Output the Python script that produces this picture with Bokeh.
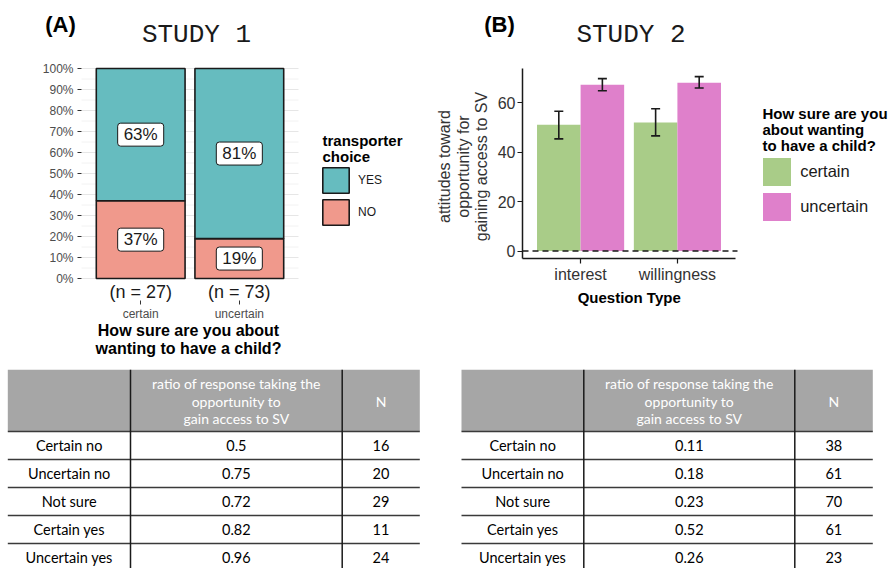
from math import pi
from bokeh.plotting import figure
from bokeh.models import (Range1d, FixedTicker, NumeralTickFormatter, Label, Legend, LegendItem,
                          ColumnDataSource, Whisker, TeeHead)
from bokeh.layouts import column, row
from bokeh.embed import file_html
from bokeh.resources import INLINE
from bokeh.core.properties import value
from bokeh.transform import dodge

# ---------------- data ----------------
s1_groups = ["certain", "uncertain"]
s1_n = [27, 73]
s1_no = [0.37, 0.19]
s1_yes = [0.63, 0.81]
s1_legend = ["YES", "NO"]
s1_yticks = [0.0, 0.1, 0.2, 0.3, 0.4, 0.5, 0.6, 0.7, 0.8, 0.9, 1.0]
s1_yminor = [0.05, 0.15, 0.25, 0.35, 0.45, 0.55, 0.65, 0.75, 0.85, 0.95]

s2_questions = ["interest", "willingness"]
s2_groups = ["certain", "uncertain"]
s2_certain_mean = [51.1, 52.0]
s2_certain_lo = [45.4, 46.6]
s2_certain_hi = [56.6, 57.6]
s2_uncertain_mean = [67.3, 68.1]
s2_uncertain_lo = [64.9, 66.0]
s2_uncertain_hi = [69.8, 70.6]
s2_yticks = [0, 20, 40, 60]

table_rows = ["Certain no", "Uncertain no", "Not sure", "Certain yes", "Uncertain yes"]
table_header = ["ratio of response taking the", "opportunity to", "gain access to SV"]
table_n_header = "N"
t1_ratio = [0.5, 0.75, 0.72, 0.82, 0.96]
t1_n = [16, 20, 29, 11, 24]
t2_ratio = [0.11, 0.18, 0.23, 0.52, 0.26]
t2_n = [38, 61, 70, 61, 23]

# ---------------- style ----------------
SANS = "Liberation Sans"
MONO = "Liberation Mono"
TAB = "Lato"
TEAL = "#66BCBF"
SALMON = "#F0998C"
GREEN = "#A9CC88"
PINK = "#DF80CB"
INK = "#1a1a1a"

TOP_H = 360
W_A, W_B = 430, 464


def add_label(fig, conv, px, py, text, size, font=SANS, bold=False, color=INK,
              align="center", angle=0.0):
    x, y = conv(px, py)
    fig.add_layout(Label(x=x, y=y, text=text, text_font=font, text_font_size=f"{size}px",
                         text_font_style="bold" if bold else "normal", text_color=color,
                         text_align=align, text_baseline="middle", angle=angle))


# ---------------- panel A ----------------
AX0, AKX = 81, 217 / 2.2      # page x of x=0.4, px per unit
AY0, AKY = 278, 210.0         # page y of y=0, px per unit


def convA(px, py):
    return 0.4 + (px - AX0) / AKX, (AY0 - py) / AKY


xa0, ya1 = convA(0, 0)
xa1, ya0 = convA(W_A, TOP_H)
pa = figure(width=W_A, height=TOP_H, x_range=Range1d(xa0, xa1), y_range=Range1d(ya0, ya1),
            output_backend="svg", toolbar_location=None, title=None, min_border=0)
pa.outline_line_color = None
pa.grid.visible = False

xA = [i + 1 for i in range(len(s1_groups))]
# grid lines (only across the panel, as in the reference)
pa.segment(x0=0.4, x1=2.6, y0=s1_yminor, y1=s1_yminor, line_color="#F2F2F2", line_width=1)
pa.segment(x0=0.4, x1=2.6, y0=s1_yticks, y1=s1_yticks, line_color="#E6E6E6", line_width=1)

srcA = ColumnDataSource(dict(x=xA, no=s1_no, yes=s1_yes))
rs = pa.vbar_stack(["no", "yes"], x="x", width=0.9, source=srcA,
                   fill_color=[SALMON, TEAL], line_color=INK, line_width=1.6)

pa.xaxis.ticker = FixedTicker(ticks=xA)
pa.xaxis.major_label_overrides = {x: g for x, g in zip(xA, s1_groups)}
pa.xaxis.fixed_location = convA(0, 300)[1]
pa.yaxis.ticker = FixedTicker(ticks=s1_yticks)
pa.yaxis.formatter = NumeralTickFormatter(format="0%")
pa.yaxis.fixed_location = 0.4
for ax in (pa.xaxis[0], pa.yaxis[0]):
    ax.axis_line_color = None
    ax.major_tick_line_color = "#333333"
    ax.major_tick_in = 0
    ax.major_tick_out = 4
    ax.minor_tick_line_color = None
    ax.major_label_text_font = SANS
    ax.major_label_text_font_size = "12px"
    ax.major_label_text_color = "#4d4d4d"
pa.xaxis.major_label_standoff = 2
pa.yaxis.major_label_standoff = 4

# percentage labels
lab_x = xA + xA
lab_y = [n / 2 for n in s1_no] + [n + y / 2 for n, y in zip(s1_no, s1_yes)]
lab_t = [f"{round(v * 100)}%" for v in s1_no + s1_yes]
pa.text(x=lab_x, y=lab_y, text=lab_t, text_font=value(SANS), text_font_size="17px",
        text_color=INK, text_align="center", text_baseline="middle",
        background_fill_color="white", border_line_color=INK, border_line_width=1,
        padding=(6, 2), border_radius=3)
# n labels
pa.text(x=xA, y=convA(0, 291.5)[1], text=[f"(n = {n})" for n in s1_n], text_font=value(SANS),
        text_font_size="18px", text_color=INK, text_align="center", text_baseline="middle")

legA = Legend(items=[LegendItem(label=s1_legend[0], renderers=[rs[1]]),
                     LegendItem(label=s1_legend[1], renderers=[rs[0]])],
              location=(319, TOP_H - 228.25), glyph_width=33, glyph_height=32, spacing=-5,
              padding=0, margin=0, label_standoff=6, label_text_font=SANS,
              label_text_font_size="12px", label_text_color=INK,
              background_fill_alpha=0, border_line_alpha=0)
pa.add_layout(legA)

add_label(pa, convA, 60, 24, "(A)", 22, bold=True, color="black")
add_label(pa, convA, 196, 34, "STUDY 1", 26, font=MONO, color=INK)
add_label(pa, convA, 188, 330, "How sure are you about", 16, bold=True, color="black")
add_label(pa, convA, 188, 348, "wanting to have a child?", 16, bold=True, color="black")
add_label(pa, convA, 322, 140, "transporter", 15, bold=True, color="black", align="left")
add_label(pa, convA, 322, 156, "choice", 15, bold=True, color="black", align="left")

# ---------------- panel B ----------------
BX0, BKX = 522, 213 / 2.2
BY0, BKY = 250.5, 2.47
B_LEFT = W_A


def convB(px, py):
    return 0.4 + (px - BX0) / BKX, (BY0 - py) / BKY


xb0, yb1 = convB(B_LEFT, 0)
xb1, yb0 = convB(B_LEFT + W_B, TOP_H)
pb = figure(width=W_B, height=TOP_H, x_range=Range1d(xb0, xb1), y_range=Range1d(yb0, yb1),
            output_backend="svg", toolbar_location=None, title=None, min_border=0)
pb.outline_line_color = None
pb.grid.visible = False

y_bottom_B = convB(0, 258)[1]
y_top_B = convB(0, 68)[1]

xB = [i + 1 for i in range(len(s2_questions))]
srcB = ColumnDataSource(dict(x=xB, cm=s2_certain_mean, clo=s2_certain_lo, chi=s2_certain_hi,
                             um=s2_uncertain_mean, ulo=s2_uncertain_lo, uhi=s2_uncertain_hi))
rc = pb.vbar(x=dodge("x", -0.225), top="cm", bottom=0, width=0.45, source=srcB,
             fill_color=GREEN, line_color=None)
ru = pb.vbar(x=dodge("x", 0.225), top="um", bottom=0, width=0.45, source=srcB,
             fill_color=PINK, line_color=None)
for off, lo, hi in ((-0.225, "clo", "chi"), (0.225, "ulo", "uhi")):
    pb.add_layout(Whisker(source=srcB, base=dodge("x", off), lower=lo, upper=hi,
                          level="overlay", line_color=INK, line_width=1.6,
                          lower_head=TeeHead(size=9, line_color=INK, line_width=1.6),
                          upper_head=TeeHead(size=9, line_color=INK, line_width=1.6)))
# dashed reference line at zero across the panel
pb.segment(x0=0.4, x1=convB(737, 0)[0], y0=0, y1=0, line_color=INK, line_width=1.5,
           line_dash="6 4")

pb.xaxis.ticker = FixedTicker(ticks=xB)
pb.xaxis.major_label_overrides = {x: q for x, q in zip(xB, s2_questions)}
pb.xaxis.fixed_location = y_bottom_B
pb.xaxis.bounds = (0.4, 2.6)
pb.yaxis.ticker = FixedTicker(ticks=s2_yticks)
pb.yaxis.fixed_location = 0.4
pb.yaxis.bounds = (y_bottom_B, y_top_B)
for ax in (pb.xaxis[0], pb.yaxis[0]):
    ax.axis_line_color = INK
    ax.axis_line_width = 1.5
    ax.major_tick_line_color = INK
    ax.major_tick_line_width = 1.2
    ax.major_tick_in = 0
    ax.major_tick_out = 5
    ax.minor_tick_line_color = None
    ax.major_label_text_font = SANS
    ax.major_label_text_font_size = "16px"
    ax.major_label_text_color = "#333333"
    ax.major_label_standoff = 2

legB = Legend(items=[LegendItem(label=s2_groups[0], renderers=[rc]),
                     LegendItem(label=s2_groups[1], renderers=[ru])],
              location=(759.2 - B_LEFT, TOP_H - 223.5), glyph_width=35, glyph_height=35,
              spacing=-4, padding=0, margin=0, label_standoff=6, label_text_font=SANS,
              label_text_font_size="16.5px", label_text_color=INK,
              background_fill_alpha=0, border_line_alpha=0)
pb.add_layout(legB)

add_label(pb, convB, 499, 24, "(B)", 22, bold=True, color="black")
add_label(pb, convB, 630.5, 34.5, "STUDY 2", 26, font=MONO, color=INK)
add_label(pb, convB, 628.7, 296.7, "Question Type", 15, bold=True, color="black")
for px, t in zip((444, 462.5, 481), ("attitudes toward", "opportunity for", "gaining access to SV")):
    add_label(pb, convB, px, 166, t, 16, color="#333333", angle=pi / 2)
for py, t in zip((113, 129, 145), ("How sure are you", "about wanting", "to have a child?")):
    add_label(pb, convB, 762, py, t, 15, bold=True, color="black", align="left")


# ---------------- tables ----------------
TAB_H = 568 - TOP_H


def make_table(fig_left, fig_width, tl, c1, c2, tr, ratios, ns):
    t = figure(width=fig_width, height=TAB_H, x_range=Range1d(fig_left, fig_left + fig_width),
               y_range=Range1d(568, TOP_H), output_backend="svg", toolbar_location=None,
               title=None, min_border=0, x_axis_location=None, y_axis_location=None)
    t.outline_line_color = None
    t.grid.visible = False
    t.quad(left=tl, right=tr, top=369.3, bottom=431, fill_color="#A6A6A6", line_color=None)
    row_y = [445 + 28 * i for i in range(len(table_rows))]
    sep = [431] + [y + 14 for y in row_y[:-1]]
    t.segment(x0=tl, x1=tr, y0=sep, y1=sep, line_color="#3a3a3a", line_width=1.5)
    t.segment(x0=[c1, c2], x1=[c1, c2], y0=369.3, y1=580, line_color=INK, line_width=1.5)
    hy = [382.7, 400.5, 418.3]
    t.text(x=(c1 + c2) / 2, y=hy, text=table_header, text_font=value(TAB), text_font_size="14px",
           text_color="white", text_align="center", text_baseline="middle")
    t.text(x=(c2 + tr) / 2, y=400.5, text=[table_n_header], text_font=value(TAB),
           text_font_size="14px", text_color="white", text_align="center", text_baseline="middle")
    common = dict(text_font=value(TAB), text_font_size="14.5px", text_color="#000000",
                  text_align="center", text_baseline="middle")
    t.text(x=(tl + c1) / 2, y=row_y, text=table_rows, **common)
    t.text(x=(c1 + c2) / 2, y=row_y, text=[str(r) for r in ratios], **common)
    t.text(x=(c2 + tr) / 2, y=row_y, text=[str(n) for n in ns], **common)
    return t


t1 = make_table(0, W_A, 7.3, 130, 341.7, 419.3, t1_ratio, t1_n)
t2 = make_table(W_A, W_B, 461, 583.3, 794.3, 872.3, t2_ratio, t2_n)

layout = column(row(pa, pb), row(t1, t2))
open("out.html", "w").write(file_html(layout, INLINE))
